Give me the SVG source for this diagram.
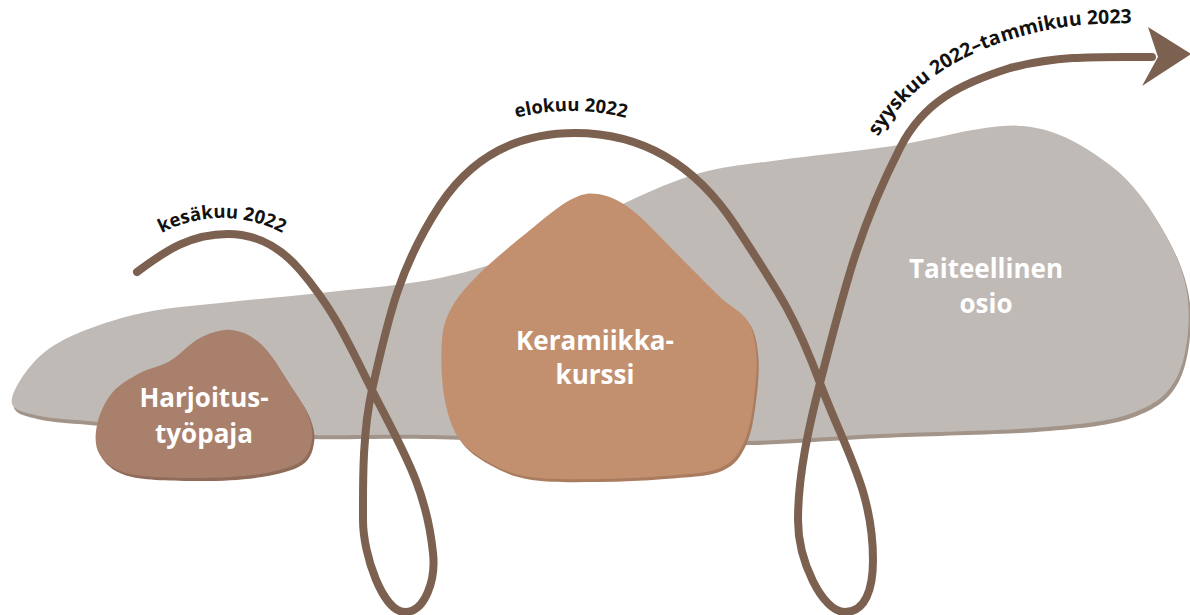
<svg xmlns="http://www.w3.org/2000/svg" width="1190" height="615" viewBox="0 0 1190 615">
<style>
.node-text{font-family:"Open Sans","Liberation Sans",sans-serif;font-weight:700;font-size:26px;fill:#ffffff;text-anchor:middle}
.lbl{font-family:"Open Sans","Liberation Sans",sans-serif;font-weight:700;font-size:18.5px;fill:#111111}
.conn{fill:none;stroke:#7d6150;stroke-width:8;stroke-linecap:round;stroke-linejoin:round}
</style>
<defs>
<path id="grayShape" d="M12,398 C14.5,386.8 29.8,361.8 50,348 S103,322.7 133,315 S197.2,305.8 230,302 S295,296 330,292 S406.7,285 440,278 S498.8,262.7 530,250 S598.7,214.8 627,202 S674.5,180 700,173 S747.8,164.5 780,160 S852.5,151.7 893,146 S986.8,122.8 1023,126 S1086.7,147.7 1110,165 S1150,207.5 1163,230 S1185.5,275.8 1188,300 S1186.8,356.3 1178,375 S1156.8,403.3 1135,412 S1089.5,423.3 1047,427 S929.5,431.7 880,434 S796.7,439.8 750,441 S653.3,442 600,441 S478.3,436 430,435 S348.3,435.8 310,435 S235,432.2 200,430 S127.5,424.5 100,422 S49.7,418.7 35,415 S9.5,409.2 12,398 Z"/>
<path id="blob1Shape" d="M232,330 C242.3,331.2 252.3,335.8 262,345 S282.3,373.3 290,385 S304.3,405.8 308,415 S313.3,432.2 312,440 S308.7,456.3 300,462 S276.7,471.3 260,474 S221.7,478 200,478 S146.7,477.8 130,474 S105.5,463.2 100,455 S95,435.3 97,425 S104.8,401.7 112,393 S130.3,378.3 140,373 S160,366.8 170,361 S189.7,343.2 200,338 S221.7,328.8 232,330 Z"/>
<path id="blob2Shape" d="M598,194 C608.3,195.7 618.3,199.5 632,210 S665.3,242.5 680,257 S708.8,286.5 720,297 S741,311.2 747,320 S754.7,338.3 756,350 S756.8,375 755,390 S750.8,427 745,440 S733.7,462 720,468 S683.5,474.2 663,476 S619.2,478.8 597,479 S548.2,479.8 530,477 S500,468.7 488,462 S465.3,448.2 458,437 S446.7,411.2 444,395 S440.7,354.7 442,340 S445.7,318.2 452,307 S467,285.8 480,273 S515,242.2 530,230 S558.7,206 570,200 S587.7,192.3 598,194 Z"/>
<path id="arcKesa" d="M140,247.4 A129,129 0 0 1 304,247.4"/>
<path id="arcElo" d="M480,130.4 A223,223 0 0 1 662,130.4"/>
<path id="arcSyys" d="M872,147 C895,105 935,65 1000,43 S1100,24 1150,23"/>
</defs>

<g id="node-taiteellinen-osio">
<use href="#grayShape" transform="translate(2,4)" fill="#a39489"/>
<use href="#grayShape" fill="#bfbab6"/>
<text class="node-text" x="986" y="278">Taiteellinen</text>
<text class="node-text" x="986" y="313">osio</text>
</g>

<g id="node-harjoitustyopaja">
<use href="#blob1Shape" transform="translate(2,3)" fill="#8f6b59"/>
<use href="#blob1Shape" fill="#a9806b"/>
<text class="node-text" x="204" y="407">Harjoitus-</text>
<text class="node-text" x="204" y="443">työpaja</text>
</g>

<g id="node-keramiikkakurssi">
<use href="#blob2Shape" transform="translate(2,3)" fill="#a97c5f"/>
<use href="#blob2Shape" fill="#c3906f"/>
<text class="node-text" x="595" y="350">Keramiikka-</text>
<text class="node-text" x="595" y="384">kurssi</text>
</g>

<g id="connectors">
<path class="conn" d="M137,272 C166.6,249.8 191,234 228,234 C258,234 280.5,247.2 300,270 C334.5,310.3 348.2,342.8 372,390 C401.7,448.7 426.4,487.3 433,553 C436,580 425,612 405,612 C383,612 363,555 363,520 C363,485 362.1,433.9 372,390 C388.5,317 399,267.6 440,205 C472,156.6 517,133 575,133 C645,133 696.5,166.5 735,225 C781.8,296 796.2,319.1 820,383 C844.5,449 873,490 873,560 C873,590 865,612 845,612 C822,612 798,560 798,520 C798,475 808.8,426.7 820,383 C844,291 857,232.5 900,148 C923.4,101.7 960.6,83.6 1010,68 C1061,55 1100,57 1152,57"/>
<polygon points="1148,27 1191,54 1142,86 1158,57" fill="#7d6150"/>
<text class="lbl"><textPath href="#arcKesa" startOffset="50%" text-anchor="middle">kesäkuu 2022</textPath></text>
<text class="lbl"><textPath href="#arcElo" startOffset="50%" text-anchor="middle">elokuu 2022</textPath></text>
<text class="lbl" style="font-size:19.5px"><textPath href="#arcSyys" startOffset="12">syyskuu 2022–tammikuu 2023</textPath></text>
</g>
</svg>
